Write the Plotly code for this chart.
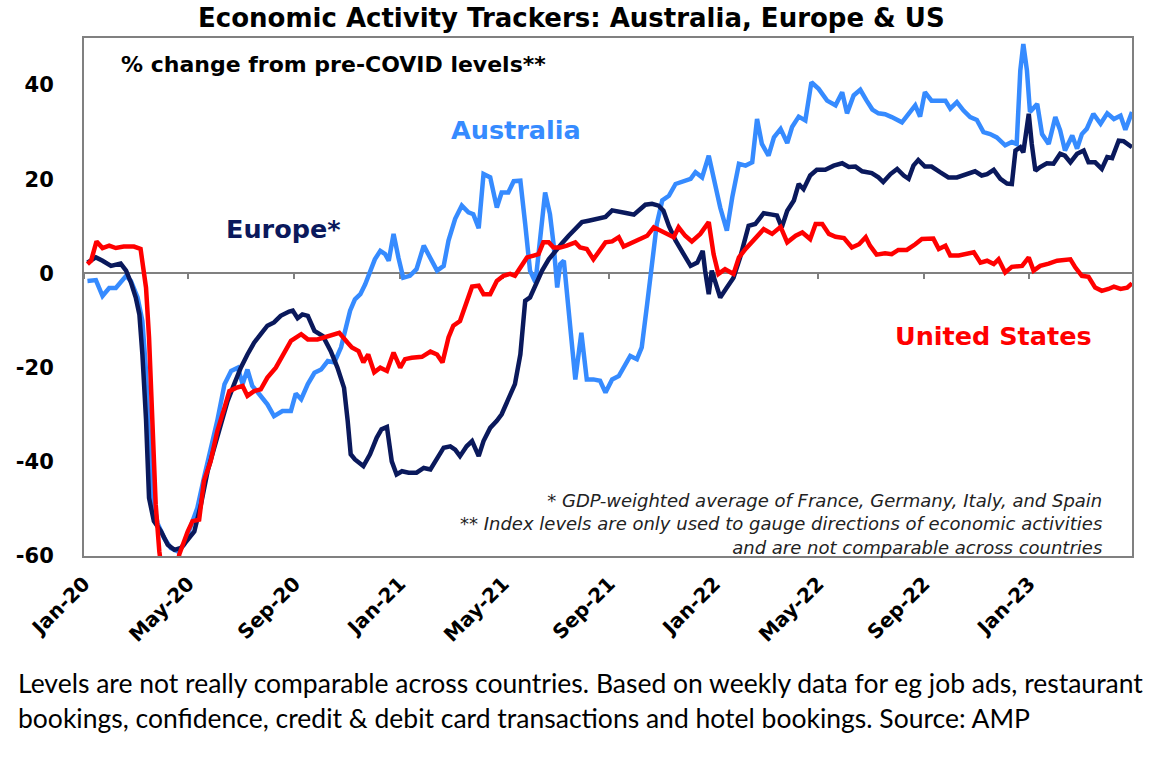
import numpy as np
import pandas as pd
import plotly.graph_objects as go

START = pd.Timestamp("2020-01-05")

AUS_WEEK = [
    0, 1.4, 2.5, 3.6, 4.7, 5.5, 6.4, 7.2, 8.3, 9.1, 9.7, 10.2, 10.8, 11.6, 12.7,
    13.8, 14.9, 16, 17.1, 18.2, 19.3, 20.4, 21.5, 22.7, 23.8, 24.9, 25.7, 26.5,
    27.3, 28.5, 29.8, 30.9, 32.3, 33.7, 34.5, 35.4, 36.5, 37.6, 38.7, 39.8, 40.9,
    42, 42.8, 43.5, 44.3, 45.2, 46, 46.8, 47.6, 48.5, 49.3, 49.9, 50.7, 51.5,
    52.3, 53.4, 54.5, 55.7, 56.8, 57.9, 59, 59.8, 60.9, 62, 63.1, 63.9, 64.8,
    65.6, 66.7, 67.8, 68.6, 69.7, 70.6, 71.7, 72.5, 73.3, 74.2, 75, 75.8, 76.6,
    77.2, 77.8, 78.3, 78.9, 79.7, 80.8, 81.8, 82.7, 83.8, 84.9, 85.8, 86.9, 88,
    89.1, 89.9, 91, 91.8, 92.7, 93.5, 94.3, 95.2, 96.3, 97.4, 98.7, 99.9, 100.7,
    101.8, 102.9, 103.7, 104.8, 105.9, 106.8, 107.9, 109, 110.1, 110.9, 111.7,
    112.8, 113.7, 114.8, 115.9, 116.7, 117.8, 118.9, 119.9, 121.1, 122.5, 123.9,
    125, 125.8, 126.9, 128, 129, 130, 131, 132.1, 133.2, 134.9, 136, 137.1,
    137.9, 138.7, 139.8, 141.2, 142.1, 142.9, 144, 145.1, 146.2, 147.3, 148.4,
    149.5, 150.6, 152, 153.1, 153.9, 154.5, 155, 155.6, 156.1, 156.7, 157.3,
    158.1, 159.2, 160.3, 161.1, 161.9, 163.1, 163.9, 164.7, 165.5, 166.6, 167.8,
    168.9, 170, 171.1, 171.9, 173,
]
AUS_PCT = [
    -1.6, -1.4, -4.8, -3.1, -3.1, -1.9, -0.5, -1.6, -5.1, -10.1, -20.7, -34.9,
    -47.7, -53, -56.2, -58.3, -59, -57.6, -54, -49.8, -43.4, -37.7, -31.3, -23.5,
    -20.7, -20, -23.5, -20.4, -23.9, -25.7, -27.8, -30.3, -29.2, -29.2, -25.5,
    -26.7, -23.5, -21.1, -20.4, -18.6, -18.9, -15.7, -11.5, -7.9, -5.5, -4.4,
    -2.3, 0.6, 3.0, 4.8, 4.1, 2.7, 8.4, 3.4, -0.9, -0.5, 0.9, 5.9, 3.0, 0.6, 1.6,
    7.0, 11.6, 14.4, 13.0, 12.6, 9.6, 21.1, 20.4, 14.0, 17.2, 17.2, 19.6, 19.7,
    10.5, 0.6, -1.9, 7.7, 17.2, 12.6, 6.2, -3.0, 2.0, 2.7, -7.9, -22.5, -12.6,
    -22.5, -22.5, -22.8, -25.3, -22.5, -21.8, -19.3, -17.5, -18.2, -15.7, -6.5,
    1.3, 10.5, 15.5, 16.5, 19.0, 19.6, 20.1, 21.5, 20.4, 25.0, 20.4, 14.0, 9.1,
    16.2, 23.3, 22.9, 23.6, 32.8, 27.5, 25.0, 28.9, 30.7, 27.7, 31.1, 33.3, 32.5,
    40.6, 39.2, 36.7, 35.7, 38.5, 34.0, 37.8, 39.0, 36.8, 34.8, 34.0, 33.8, 33.2,
    32.1, 33.9, 35.7, 33.3, 38.5, 36.7, 36.6, 36.7, 35.0, 36.4, 34.6, 33.2, 32.6,
    30.0, 29.6, 28.9, 27.2, 27.9, 27.5, 43.1, 48.7, 43.1, 34.3, 35.0, 36.0, 29.6,
    27.5, 33.2, 30.4, 26.1, 29.3, 26.5, 29.6, 30.7, 33.9, 31.8, 34.0, 32.8, 33.5,
    30.5, 34.3,
]

EUR_WEEK = [
    0, 1.4, 2.5, 3.9, 5.5, 6.4, 7.2, 8, 8.6, 9.1, 9.7, 10.2, 11, 12.2, 13.3, 14.4,
    15.5, 16.6, 17.7, 18.8, 19.9, 21, 22.1, 23.2, 24.3, 25.4, 26.5, 27.6, 28.7,
    29.8, 30.9, 32, 33.4, 34, 34.8, 35.6, 36.5, 37.6, 39, 40.3, 41.4, 42.5, 43.1,
    43.6, 44.3, 45.7, 46.8, 47.9, 48.7, 49.6, 50.4, 51.2, 52.1, 53.2, 54.5, 55.7,
    56.8, 57.9, 59, 60.1, 60.9, 61.7, 62.8, 63.7, 64.8, 65.6, 66.7, 67.8, 68.6,
    69.7, 70.8, 71.7, 72.5, 73.3, 74.2, 75.3, 76.4, 77.5, 78.6, 79.7, 80.8, 81.9,
    83, 84.7, 85.8, 86.9, 88.2, 89.4, 90.5, 91.3, 92.4, 93.5, 94.6, 95.4, 96.3,
    97.4, 98.5, 99.9, 101, 101.9, 102.3, 102.9, 103.4, 104.8, 105.9, 107, 108.1,
    109.5, 110.6, 112, 113.4, 114.2, 115, 115.9, 117, 117.8, 118.6, 119.7, 120.8,
    122.2, 123.6, 125, 126.1, 127.2, 128.3, 129.9, 131, 131.8, 133, 134.1, 135.2,
    136, 136.8, 137.6, 138.7, 139.8, 141.2, 142.6, 144, 145.4, 147, 148.1, 149,
    150.1, 151.2, 152.3, 153.1, 153.7, 154.5, 155, 155.9, 156.4, 157, 157.8,
    158.9, 160, 161.1, 161.9, 162.8, 163.9, 165, 165.8, 166.9, 168, 168.9, 169.7,
    170.8, 171.6, 173,
]
EUR_PCT = [
    2.3, 3.4, 2.7, 1.6, 2.1, 0.6, -1.9, -5.1, -8.7, -17.2, -31, -47.7, -52.6,
    -54.8, -57.6, -58.7, -58.3, -56.5, -54.8, -49, -42, -37, -32, -27.1, -23.5,
    -20, -17.2, -14.7, -12.9, -11.1, -10.4, -9.0, -8.1, -7.9, -9.5, -8.7, -9.0,
    -12.2, -13.3, -16.5, -20, -24.3, -31.3, -38.4, -39.5, -40.9, -38.4, -34.9,
    -33.1, -32.6, -39.9, -42.7, -42, -42.3, -42.3, -41.3, -41.6, -39.1, -37,
    -36.7, -37.4, -38.8, -36.7, -35.6, -38.8, -35.6, -32.8, -31.3, -29.9, -26.7,
    -23.5, -17.2, -5.8, -5.1, -2.6, 0.6, 3.0, 4.8, 6.4, 8.0, 9.4, 10.9, 11.2,
    11.6, 12.0, 13.4, 13.2, 12.8, 12.5, 13.3, 14.6, 14.8, 14.4, 13.3, 10.1, 7.0,
    4.8, 1.6, 2.3, 4.8, 0.6, -4.4, 0.6, -5.1, -3.0, -0.9, 3.4, 10.1, 10.5, 12.8,
    12.5, 12.3, 9.8, 13.3, 15.5, 19.0, 17.9, 20.8, 22.0, 22.0, 22.9, 23.4, 22.6,
    22.7, 21.7, 21.3, 20.4, 19.4, 21.1, 22.2, 20.8, 20.1, 22.9, 24.1, 22.7, 22.7,
    21.5, 20.4, 20.4, 21.0, 21.7, 20.8, 21.1, 22.0, 20.1, 19.1, 19.0, 26.1, 26.8,
    25.7, 33.9, 27.5, 21.8, 22.6, 23.4, 23.3, 25.4, 25.0, 23.6, 25.4, 26.1, 23.6,
    23.6, 22.2, 24.7, 24.5, 28.2, 28.1, 26.8,
]

US_WEEK = [
    0, 0.6, 1.5, 2.5, 3.6, 4.7, 6, 7.7, 8.8, 9.4, 9.7, 10.2, 10.8, 11.3, 11.9,
    12.3, 14.8, 15.2, 16.6, 17.4, 18.5, 19.3, 20.4, 21.5, 22.7, 23.5, 24.6, 25.7,
    26.5, 27.6, 28.7, 29.8, 31.2, 32.6, 33.7, 35.4, 36.5, 38.1, 39.8, 41.7, 43.1,
    43.8, 44.9, 45.7, 46.5, 47.5, 48.5, 49.6, 50.7, 51.8, 52.6, 53.7, 55.4, 56.8,
    57.9, 58.8, 59.8, 60.6, 61.7, 62.6, 63.7, 64.8, 65.6, 66.7, 67.8, 68.9, 70,
    70.8, 71.9, 72.8, 73.9, 74.7, 75.5, 76.4, 77.2, 78.3, 79.4, 80.8, 81.6, 82.7,
    83.8, 84.7, 85.8, 86.9, 88, 88.8, 90.2, 91.3, 92.7, 93.8, 94.9, 96.3, 97.1,
    97.9, 99, 100.1, 101.5, 102.9, 103.7, 104.5, 105.6, 107, 107.9, 109, 110.3,
    112, 113.4, 114.8, 115.9, 117.3, 118.4, 119.7, 120.6, 121.7, 122.8, 123.9,
    125.3, 126.6, 127.8, 128.9, 129.6, 130.7, 132.1, 133.2, 134.3, 135.7, 137.1,
    138.2, 140.1, 141, 142.1, 142.9, 144.3, 145.9, 146.8, 147.9, 149, 150.1,
    150.9, 152, 153.1, 154.8, 155.9, 156.7, 157.8, 159.2, 160.6, 162.8, 163.6,
    164.7, 165.8, 166.9, 168, 169.1, 170, 171.1, 172.2, 173,
]
US_PCT = [
    2.0, 2.7, 6.8, 5.4, 5.9, 5.4, 5.7, 5.7, 5.2, 0.6, -3, -13.6, -31, -49, -59,
    -63, -63, -59.7, -54.8, -52.6, -52.3, -44, -39.9, -33.5, -28.5, -25, -24.3,
    -23.9, -26, -25, -24.6, -22.1, -20, -16.8, -14.3, -12.9, -14, -14, -13.3,
    -12.6, -14.7, -15.7, -16.5, -18.9, -17.2, -21, -20, -20.7, -16.8, -20, -18.2,
    -17.9, -17.7, -16.6, -17.2, -18.9, -13.6, -11.1, -10.1, -6.5, -2.8, -2.6,
    -4.4, -4.4, -1.6, -0.5, -0.1, -0.5, 1.6, 3.4, 3.8, 4.1, 6.6, 6.6, 5.5, 5.5,
    5.9, 6.6, 5.5, 5.2, 3.0, 4.8, 6.6, 6.8, 7.7, 5.7, 6.6, 7.3, 8.0, 9.8, 9.1,
    8.0, 7.7, 9.8, 8.0, 6.8, 8.4, 10.9, 4.1, -0.1, 0.9, -0.1, 3.4, 5.2, 7.0, 9.4,
    8.4, 9.9, 6.6, 8.0, 8.7, 7.3, 10.5, 10.5, 8.4, 7.8, 7.5, 5.5, 6.2, 7.7, 5.9,
    4.0, 4.3, 4.1, 5.0, 5.0, 6.2, 7.3, 7.4, 5.2, 5.9, 3.8, 3.8, 4.3, 4.5, 2.3,
    2.7, 2.0, 3.0, 0.2, 1.4, 1.6, 3.4, 0.6, 1.6, 2.1, 2.7, 3.0, 1.3, -0.5, -0.7,
    -3.0, -3.7, -3.3, -2.8, -3.3, -3.0, -2.1,
]

Y_TICKS = [-60, -40, -20, 0, 20, 40]
Y_RANGE = [-60, 50]
X_RANGE = ["2020-01-01", "2023-04-30"]

AUS_COLOR = "#368BFF"
EUR_COLOR = "#0A195C"
US_COLOR = "#FF0000"
BORDER = "#808080"
BOLD_FONT = "DejaVu Sans"


def to_dates(weeks):
    return START + pd.to_timedelta(np.array(weeks) * 7, unit="D")


fig = go.Figure()
for weeks, pct, color, name in [
    (AUS_WEEK, AUS_PCT, AUS_COLOR, "Australia"),
    (EUR_WEEK, EUR_PCT, EUR_COLOR, "Europe*"),
    (US_WEEK, US_PCT, US_COLOR, "United States"),
]:
    fig.add_scatter(
        x=to_dates(weeks),
        y=pct,
        mode="lines",
        name=name,
        line=dict(color=color, width=4.5),
        showlegend=False,
    )

# dummy trace so the zero-crossing axis gets drawn
fig.add_scatter(x=[X_RANGE[0]], y=[None], xaxis="x2", showlegend=False, hoverinfo="skip")

fig.update_layout(
    width=1165,
    height=757,
    margin=dict(l=84, r=33, t=38, b=201),
    paper_bgcolor="white",
    plot_bgcolor="white",
    font=dict(family=BOLD_FONT, color="black"),
    xaxis=dict(
        type="date",
        range=X_RANGE,
        tick0="2020-01-01",
        dtick="M4",
        tickformat="%b-%y",
        tickangle=-45,
        ticks="",
        ticklabelstandoff=6,
        tickfont=dict(family=BOLD_FONT, size=20, weight="bold", color="black"),
        showgrid=False,
        zeroline=False,
        showline=True,
        mirror=True,
        linecolor=BORDER,
        linewidth=2,
        automargin=False,
    ),
    # x axis drawn through y=0 with the tick marks, like the Excel original
    xaxis2=dict(
        type="date",
        range=X_RANGE,
        overlaying="x",
        anchor="free",
        position=(0 - Y_RANGE[0]) / (Y_RANGE[1] - Y_RANGE[0]),
        tick0="2020-01-01",
        dtick="M4",
        ticks="outside",
        ticklen=5,
        tickwidth=1.5,
        tickcolor=BORDER,
        showticklabels=False,
        showgrid=False,
        zeroline=False,
        showline=True,
        linecolor=BORDER,
        linewidth=1.5,
        layer="below traces",
        automargin=False,
    ),
    yaxis=dict(
        range=Y_RANGE,
        tickvals=Y_TICKS,
        ticktext=[str(v) for v in Y_TICKS],
        ticks="",
        ticklabelstandoff=24,
        tickfont=dict(family=BOLD_FONT, size=21, weight="bold", color="black"),
        showgrid=False,
        zeroline=False,
        showline=True,
        mirror=True,
        linecolor=BORDER,
        linewidth=2,
        automargin=False,
    ),
)

footnotes = [
    "* GDP-weighted average of France, Germany, Italy, and Spain",
    "** Index levels are only used to gauge directions of economic activities",
    "and are not comparable across countries",
]
caption = [
    "Levels are not really comparable across countries. Based on weekly data for eg job ads, restaurant",
    "bookings, confidence, credit & debit card transactions and hotel bookings. Source: AMP",
]

annotations = [
    dict(text="<b>Economic Activity Trackers: Australia, Europe & US</b>",
         x=0.465, y=1.039, font=dict(size=26, color="black")),
    dict(text="<b>% change from pre-COVID levels**</b>",
         x=0.033, y=0.948, xanchor="left", font=dict(size=22, color="black")),
    dict(text="<b>Australia</b>", x="2021-05-16", y=30.4, xref="x", yref="y",
         font=dict(size=25.5, color=AUS_COLOR)),
    dict(text="<b>Europe*</b>", x="2020-08-19", y=9.4, xref="x", yref="y",
         font=dict(size=25.5, color=EUR_COLOR)),
    dict(text="<b>United States</b>", x="2022-11-21", y=-13.2, xref="x", yref="y",
         font=dict(size=25.5, color=US_COLOR)),
    dict(text="<i>" + "<br>".join(footnotes) + "</i>", x=0.973, y=0.062,
         xanchor="right", align="right", font=dict(size=18, color="#222222")),
]
for i, line in enumerate(caption):
    annotations.append(
        dict(text=line, x=-0.065, y=-0.245 - i * 0.067, xanchor="left",
             font=dict(family="Lato", size=26.5, color="black"))
    )

for a in annotations:
    a.setdefault("xref", "paper")
    a.setdefault("yref", "paper")
    a.setdefault("showarrow", False)
    a.setdefault("yanchor", "middle")
    fig.add_annotation(**a)

# drop the browser's default page margin so the figure sits at the window's corner
fig.write_html(
    "out.html",
    config={"displayModeBar": False},
    post_script="document.body.style.margin='0';",
)
